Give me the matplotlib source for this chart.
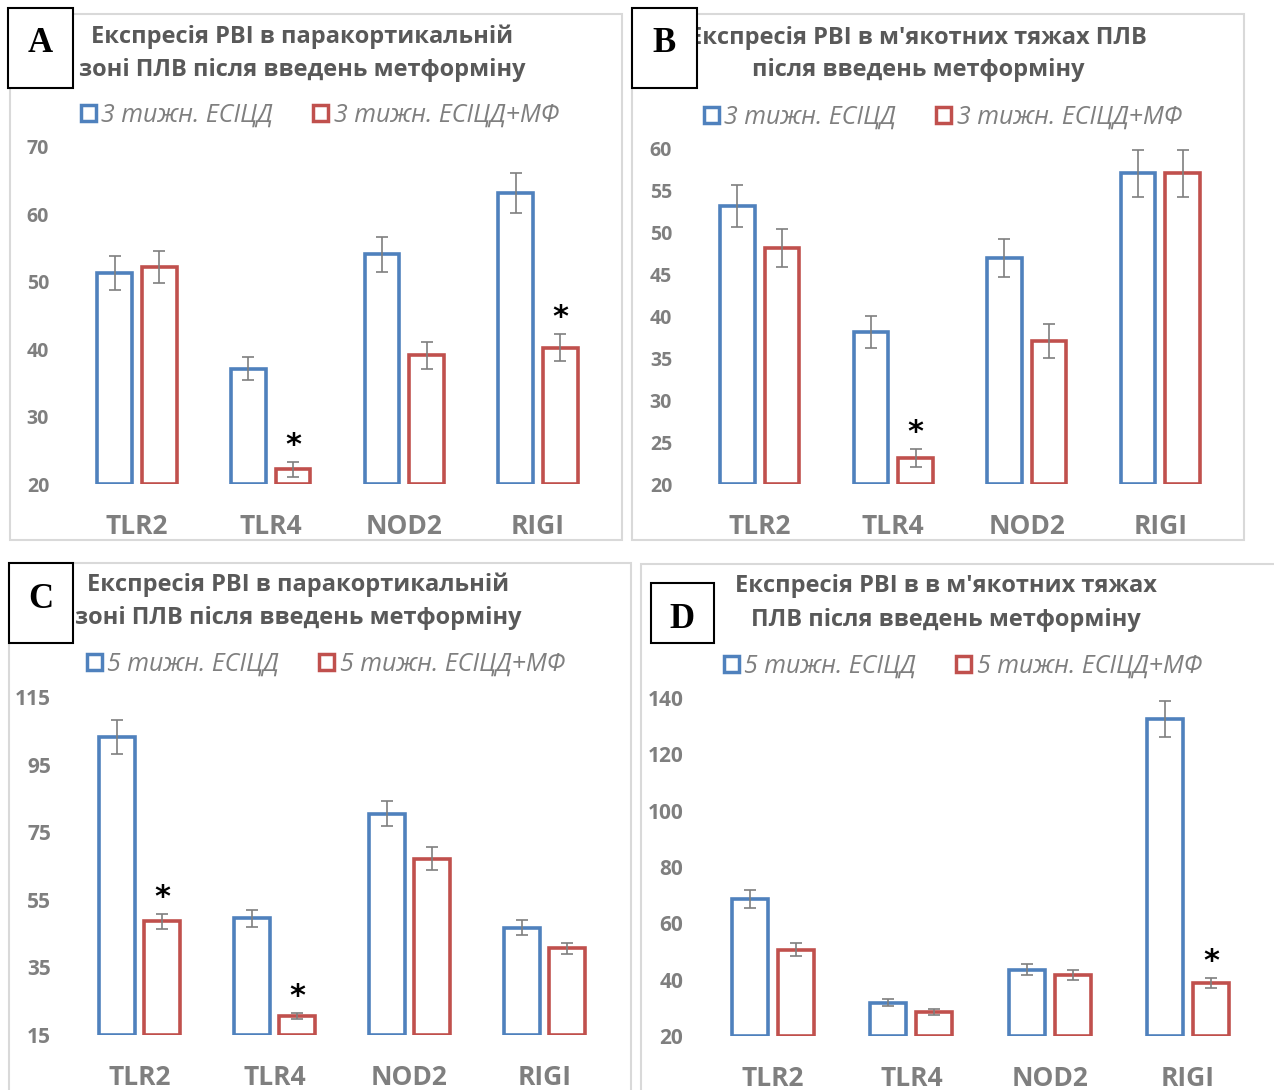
import numpy as np
import matplotlib
matplotlib.use("Agg")
import matplotlib.pyplot as plt
from matplotlib.patches import Rectangle, Patch

plt.rcParams['font.family'] = ['Open Sans', 'DejaVu Sans']

W, H = 1274, 1090

categories = ['TLR2', 'TLR4', 'NOD2', 'RIGI']

# panel A: 3 weeks, paracortical zone
a_ctrl = [51.3, 37.1, 54.1, 63.2]
a_ctrl_err = [2.5, 1.7, 2.6, 3.0]
a_mf = [52.2, 22.2, 39.1, 40.2]
a_mf_err = [2.4, 1.1, 2.0, 2.0]
a_sig = [False, True, False, True]

# panel B: 3 weeks, medullary cords
b_ctrl = [53.1, 38.1, 46.9, 57.0]
b_ctrl_err = [2.5, 1.9, 2.3, 2.8]
b_mf = [48.1, 23.1, 37.0, 57.0]
b_mf_err = [2.3, 1.1, 2.0, 2.8]
b_sig = [False, True, False, False]

# panel C: 5 weeks, paracortical zone
c_ctrl = [103.2, 49.5, 80.5, 46.8]
c_ctrl_err = [5.0, 2.5, 3.6, 2.1]
c_mf = [48.6, 20.7, 67.2, 40.6]
c_mf_err = [2.2, 0.9, 3.3, 1.7]
c_sig = [True, True, False, False]

# panel D: 5 weeks, medullary cords
d_ctrl = [68.5, 31.8, 43.6, 132.6]
d_ctrl_err = [3.2, 1.2, 2.1, 6.4]
d_mf = [50.7, 28.6, 41.6, 38.9]
d_mf_err = [2.2, 1.1, 1.8, 1.8]
d_sig = [False, False, False, True]

BLUE = '#4F81BD'
RED = '#C0504D'
GRAY = '#7F7F7F'
TITLE_C = '#595959'


def fx(px):
    return px / W


def fy(py):
    return 1 - py / H


fig = plt.figure(figsize=(W / 100, H / 100), dpi=100)


def panel(frame, letterbox, title, title_xy, legend_labels, legend_xy,
          axbox, ylim, yticks, letter, ctrl, ctrl_err, mf, mf_err, sig,
          ytick_size=14):
    # light frame of the panel
    x0, y0, x1, y1 = frame
    fig.add_artist(Rectangle((fx(x0), fy(y1)), (x1 - x0) / W, (y1 - y0) / H,
                             transform=fig.transFigure, fill=False,
                             edgecolor='#D9D9D9', lw=1.5, zorder=0))
    left, top, right, bottom = axbox
    ax = fig.add_axes([fx(left), fy(bottom), (right - left) / W, (bottom - top) / H])
    x = np.arange(len(categories))
    w = 0.26
    off = 0.167
    ymin = ylim[0]
    ax.bar(x - off, np.array(ctrl) - ymin, w, bottom=ymin, facecolor='white',
           edgecolor=BLUE, linewidth=2.6, zorder=2)
    ax.bar(x + off, np.array(mf) - ymin, w, bottom=ymin, facecolor='white',
           edgecolor=RED, linewidth=2.6, zorder=2)
    ax.errorbar(x - off, ctrl, yerr=ctrl_err, fmt='none', ecolor=GRAY,
                elinewidth=1.2, capsize=4, capthick=1.2, zorder=3)
    ax.errorbar(x + off, mf, yerr=mf_err, fmt='none', ecolor=GRAY,
                elinewidth=1.2, capsize=4, capthick=1.2, zorder=3)
    for i, s in enumerate(sig):
        if s:
            ax.annotate('*', (x[i] + off, mf[i] + mf_err[i]), xytext=(0, 12),
                        textcoords='offset points', ha='center', va='center',
                        fontsize=22, fontweight='bold', color='black',
                        family='DejaVu Sans')
    ax.set_xlim(-0.5, 3.5)
    ax.set_ylim(*ylim)
    ax.set_yticks(yticks)
    ax.set_xticks(x)
    ax.set_xticklabels(categories)
    ax.tick_params(axis='y', length=0, pad=15, labelsize=ytick_size, labelcolor=GRAY)
    ax.tick_params(axis='x', length=0, pad=21, labelsize=19, labelcolor=GRAY)
    for lab in ax.get_yticklabels() + ax.get_xticklabels():
        lab.set_fontweight('bold')
    for sp in ax.spines.values():
        sp.set_visible(False)
    ax.patch.set_alpha(0)

    # title
    tx, ty = title_xy
    fig.text(fx(tx), fy(ty), title, ha='center', va='center', fontsize=17,
             fontweight='bold', color=TITLE_C, linespacing=1.5)

    # legend
    handles = [Patch(facecolor='white', edgecolor=BLUE, lw=2.5),
               Patch(facecolor='white', edgecolor=RED, lw=2.5)]
    lx, ly = legend_xy
    ax.legend(handles, legend_labels, loc='center',
              bbox_to_anchor=(fx(lx), fy(ly)), bbox_transform=fig.transFigure,
              ncol=2, frameon=False, handlelength=0.6, handleheight=0.6,
              handletextpad=0.22, columnspacing=1.6,
              prop={'style': 'italic', 'size': 18})
    for t in ax.get_legend().get_texts():
        t.set_color(GRAY)

    # letter box
    bx0, by0, bx1, by1 = letterbox
    fig.add_artist(Rectangle((fx(bx0), fy(by1)), (bx1 - bx0) / W, (by1 - by0) / H,
                             transform=fig.transFigure, facecolor='white',
                             edgecolor='black', lw=1.5, zorder=5))
    fig.text(fx((bx0 + bx1) / 2), fy(by0 + 36), letter, ha='center', va='center',
             fontsize=25, fontweight='bold', family='Liberation Serif',
             color='black', zorder=6)
    return ax


panel((10, 14, 622, 540), (8, 8, 73, 88),
      'Експресія РВІ в паракортикальній\nзоні ПЛВ після введень метформіну',
      (302, 53), ['3 тижн. ЕСІЦД', '3 тижн. ЕСІЦД+МФ'], (320, 115),
      (70, 147, 605, 484), (20, 70), [20, 30, 40, 50, 60, 70], 'A',
      a_ctrl, a_ctrl_err, a_mf, a_mf_err, a_sig)

panel((632, 14, 1244, 540), (632, 8, 697, 88),
      "Експресія РВІ в м'якотних тяжах ПЛВ\nпісля введень метформіну",
      (918, 54), ['3 тижн. ЕСІЦД', '3 тижн. ЕСІЦД+МФ'], (943, 117),
      (693, 148, 1227, 484), (20, 60), [20, 25, 30, 35, 40, 45, 50, 55, 60], 'B',
      b_ctrl, b_ctrl_err, b_mf, b_mf_err, b_sig)

panel((9, 563, 631, 1095), (9, 563, 73, 643),
      'Експресія РВІ в паракортикальній\nзоні ПЛВ після введень метформіну',
      (298, 601), ['5 тижн. ЕСІЦД', '5 тижн. ЕСІЦД+МФ'], (326, 664),
      (72, 697, 612, 1035), (15, 115), [15, 35, 55, 75, 95, 115], 'C',
      c_ctrl, c_ctrl_err, c_mf, c_mf_err, c_sig, ytick_size=15)

panel((641, 564, 1280, 1095), (651, 583, 714, 643),
      "Експресія РВІ в в м'якотних тяжах\nПЛВ після введень метформіну",
      (946, 603), ['5 тижн. ЕСІЦД', '5 тижн. ЕСІЦД+МФ'], (963, 666),
      (704, 698, 1257, 1036), (20, 140), [20, 40, 60, 80, 100, 120, 140], 'D',
      d_ctrl, d_ctrl_err, d_mf, d_mf_err, d_sig, ytick_size=15)

fig.savefig('out.png', dpi=100)
